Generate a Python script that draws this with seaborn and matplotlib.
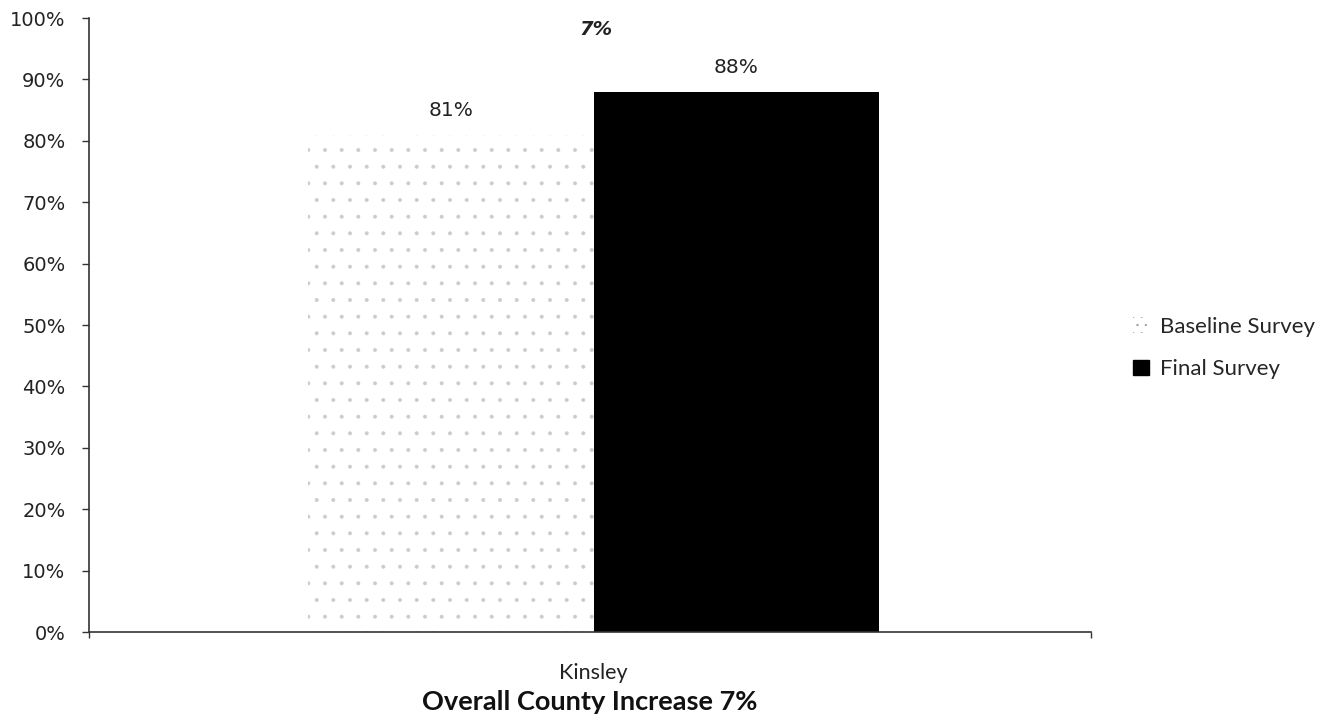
import matplotlib
matplotlib.use("Agg")
import matplotlib.pyplot as plt
import seaborn as sns
import pandas as pd
from matplotlib.patches import Patch

categories = ["Kinsley"]
surveys = ["Baseline Survey", "Final Survey"]
baseline_values = [81]
final_values = [88]
increase_label = "7%"
title_text = "Overall County Increase 7%"
yticks = [0, 10, 20, 30, 40, 50, 60, 70, 80, 90, 100]

df = pd.DataFrame({
    "County": categories * 2,
    "Survey": [surveys[0]] * len(categories) + [surveys[1]] * len(categories),
    "Value": baseline_values + final_values,
})

sns.set_theme(style="white")
plt.rcParams['font.family'] = ['DejaVu Sans']
plt.rcParams['hatch.linewidth'] = 0.4
plt.rcParams['hatch.color'] = '#c8c8c8'

fig = plt.figure(figsize=(13.32, 7.25), dpi=100)
ax = fig.add_axes([89 / 1332, 1 - 632 / 725, 1002 / 1332, 614 / 725])

sns.barplot(data=df, x="County", y="Value", hue="Survey", hue_order=surveys,
            palette=["white", "black"], width=0.569, ax=ax, legend=False,
            saturation=1, linewidth=0, edgecolor="none")

patches = [p for p in ax.patches]
patches[0].set_hatch('.')
patches[0].set_edgecolor('#cccccc')
patches[0].set_linewidth(0)

for p, v in zip(patches, baseline_values + final_values):
    ax.text(p.get_x() + p.get_width() / 2, v + 4, f"{v}%", ha="center",
            va="center", fontsize=14.5, color="#222222")

ax.text(0.003, 98.2, increase_label, ha="center", va="center",
        fontsize=14, fontweight="bold", fontstyle="italic", color="#222222")

ax.set_xlim(-0.5035, 0.4965)
ax.set_ylim(0, 100)
ax.set_yticks(yticks)
ax.set_yticklabels([f"{t}%" for t in yticks], fontsize=14, color="#222222")
ax.set_xticks([0])
ax.set_xticklabels(categories, fontsize=15.5, color="#222222", family="Lato")
ax.set_xticks([-0.5035, 0.4965], minor=True)
ax.tick_params(axis='x', which='major', length=0, pad=22)
ax.tick_params(axis='x', which='minor', length=4, width=1, direction='out', color='#333333', bottom=True)
ax.tick_params(axis='y', length=5, width=1, direction='out', color='#333333', pad=12, left=True)
ax.set_xlabel(title_text, fontsize=19.5, fontweight="bold", labelpad=5,
              color="#111111", family="Lato")
ax.set_ylabel("")

for s in ["top", "right"]:
    ax.spines[s].set_visible(False)
for s in ["left", "bottom"]:
    ax.spines[s].set_color("#333333")
    ax.spines[s].set_linewidth(1.2)

handles = [Patch(facecolor="white", edgecolor="#999999", hatch='..', linewidth=0),
           Patch(facecolor="black", edgecolor="black")]
fig.legend(handles, surveys, loc="center left", bbox_to_anchor=(1133 / 1332, 1 - 348 / 725),
           frameon=False, handlelength=0.7, handleheight=0.7,
           handletextpad=0.5, labelspacing=1.0, borderpad=0, borderaxespad=0,
           prop={'family': 'Lato', 'size': 16})

fig.savefig("out.png", dpi=100, facecolor="white")
